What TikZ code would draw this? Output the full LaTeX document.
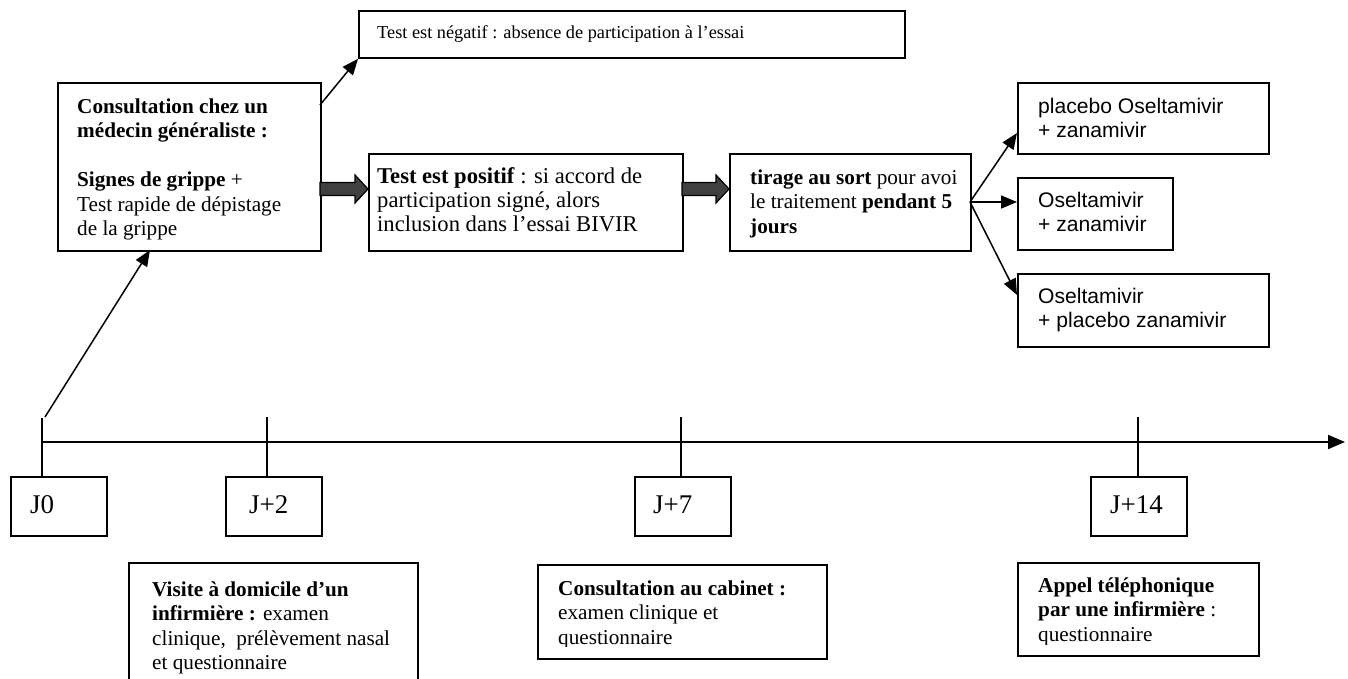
\documentclass[tikz,border=0pt]{standalone}
\usepackage{fontspec}
\setmainfont{Liberation Serif}
\setsansfont{Liberation Sans}
\usetikzlibrary{arrows.meta,calc}
\newcommand\mystrut{\rule{0pt}{19pt}}
\newcommand\bigstrut{\rule{0pt}{24pt}}
\newcommand\smallstrut{\rule{0pt}{16pt}}
\begin{document}
\begin{tikzpicture}[x=1pt,y=-1pt,
  box/.style={draw, line width=1.8pt, inner sep=0pt, anchor=north west},
  txt/.style={inner sep=0pt, anchor=north west, align=left, font=\fontsize{21.2}{24.5}\selectfont},
  ptxt/.style={inner sep=0pt, anchor=north west, align=left, font=\fontsize{22.6}{24.2}\selectfont},
  stxt/.style={inner sep=0pt, anchor=north west, align=left, font=\sffamily\fontsize{21.1}{24}\selectfont},
  jtxt/.style={inner sep=0pt, anchor=north west, font=\fontsize{27}{30}\selectfont},
  ntxt/.style={inner sep=0pt, anchor=north west, font=\fontsize{18.3}{21}\selectfont},
  arr/.style={-{Triangle[length=16pt,width=13pt]}, line width=1.5pt},
  tick/.style={line width=1.5pt},
  fat/.style={fill=black!75, draw=black, line width=1.2pt}]
\useasboundingbox (0,0) rectangle (1348,679);

% boxes
\node[box, minimum width=263, minimum height=168] (cons) at (57,82) {};
\node[box, minimum width=546, minimum height=47] (neg) at (358,10) {};
\node[box, minimum width=314, minimum height=97] (pos) at (368,153) {};
\node[box, minimum width=241, minimum height=97] (tir) at (729,153) {};
\node[box, minimum width=251, minimum height=71] (r1) at (1017,82) {};
\node[box, minimum width=155, minimum height=72] (r2) at (1017,177) {};
\node[box, minimum width=251, minimum height=73] (r3) at (1017,273) {};
\node[box, minimum width=96, minimum height=59] (j0) at (10,476) {};
\node[box, minimum width=96, minimum height=59] (j2) at (225,476) {};
\node[box, minimum width=96, minimum height=59] (j7) at (634,476) {};
\node[box, minimum width=96, minimum height=59] (j14) at (1090,476) {};
\node[box, minimum width=289, minimum height=140] (vis) at (128,562) {};
\node[box, minimum width=289, minimum height=94] (cab) at (537,564) {};
\node[box, minimum width=241, minimum height=93] (app) at (1017,562) {};

% texts
\begin{scope}
  \clip (cons.north west) rectangle ([yshift=12pt]cons.south east);
  \node[txt] (consT) at (77,94) {\mystrut\textbf{Consultation chez un}\\\textbf{médecin généraliste :}\\[24.5pt]\textbf{Signes de grippe} +\\Test rapide de dépistage\\de la grippe};
\end{scope}
\node[ntxt] (negT) at (377,22) {\smallstrut Test est négatif : absence de participation à l’essai};
\node[ptxt] (posT) at (377,163) {\rule{0pt}{20pt}\textbf{Test est positif} : si accord de\\participation signé, alors\\inclusion dans l’essai BIVIR};
\node[txt] (tirT) at (750,165) {\mystrut\textbf{tirage au sort} pour avoi\\le traitement \textbf{pendant 5}\\\textbf{jours}};
\node[stxt] (r1T) at (1038,94) {\mystrut placebo Oseltamivir\\+ zanamivir};
\node[stxt] (r2T) at (1038,188) {\mystrut Oseltamivir\\+ zanamivir};
\node[stxt] (r3T) at (1038,284) {\mystrut Oseltamivir\\+ placebo zanamivir};
\node[jtxt] (j0T) at (30,489) {\bigstrut J0};
\node[jtxt] (j2T) at (249,489) {\bigstrut J+2};
\node[jtxt] (j7T) at (653,489) {\bigstrut J+7};
\node[jtxt] (j14T) at (1110,489) {\bigstrut J+14};
\node[txt] (visT) at (152,577) {\mystrut\textbf{Visite à domicile d’un}\\\textbf{infirmière :} examen\\clinique,\ \ prélèvement nasal\\et questionnaire};
\begin{scope}
  \clip (cab.north west) rectangle ([yshift=13pt]cab.south east);
  \node[txt] (cabT) at (558,576) {\mystrut\textbf{Consultation au cabinet :}\\examen clinique et\\questionnaire};
\end{scope}
\begin{scope}
  \clip (app.north west) rectangle ([yshift=12pt]app.south east);
  \node[txt] (appT) at (1038,573) {\mystrut\textbf{Appel téléphonique}\\\textbf{par une infirmière} :\\questionnaire};
\end{scope}

% timeline
\coordinate (tl0) at (42,442);
\coordinate (tlend) at (1345,442);
\draw[line width=2pt, -{Triangle[length=17pt,width=14pt]}] (tl0) -- (tlend);
\coordinate (t0top) at (42,418);
\coordinate (t2top) at (267,417);
\coordinate (t7top) at (681,417);
\coordinate (t14top) at (1138,417);
\draw[tick] (t0top) -- (t0top |- j0.north);
\draw[tick] (t2top) -- (t2top |- j2.north);
\draw[tick] (t7top) -- (t7top |- j7.north);
\draw[tick] (t14top) -- (t14top |- j14.north);

% thin arrows
\coordinate (a0s) at (45,417);
\coordinate (a0e) at (150,250);
\draw[arr] (a0s) -- (a0e);
\coordinate (c1s) at (320,105);
\draw[arr] (c1s) -- (neg.south west);
\coordinate (ts) at (970,202);
\coordinate (r1e) at (1017,133);
\coordinate (r3e) at (1017,295);
\draw[arr] (ts) -- (r1e);
\draw[arr] (ts) -- (ts -| r2.west);
\draw[arr] (ts) -- (r3e);

% fat arrows
\coordinate (f1s) at (320,189);
\coordinate (f1e) at (368,189);
\coordinate (f2s) at (682,189);
\coordinate (f2e) at (729,189);
\foreach \s/\e in {f1s/f1e, f2s/f2e}{
  \path let \p1=(\s), \p2=(\e) in
    [fat] (\x1,\y1+6.5pt) -- (\x2-13pt,\y1+6.5pt) -- (\x2-13pt,\y1+14pt) -- (\x2,\y1)
      -- (\x2-13pt,\y1-14pt) -- (\x2-13pt,\y1-6.5pt) -- (\x1,\y1-6.5pt) -- cycle;
}
\end{tikzpicture}
\end{document}
